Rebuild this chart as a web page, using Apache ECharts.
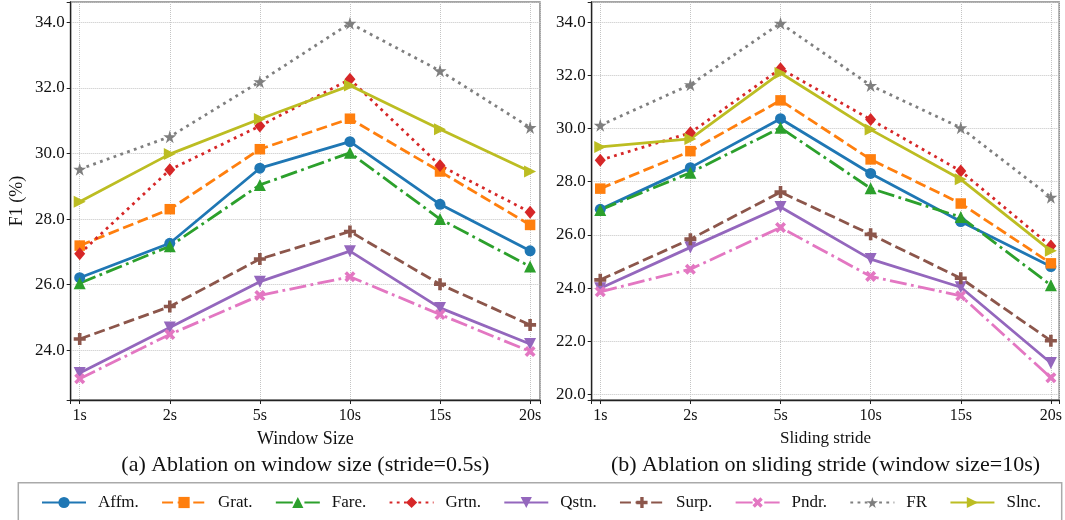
<!DOCTYPE html>
<html>
<head>
<meta charset="utf-8">
<script src="https://cdn.jsdelivr.net/npm/echarts@6/dist/echarts.min.js"></script>
<style>
    html, body { margin: 0; padding: 0; background: #fff; }
    #chart { width: 1065px; height: 520px; }
</style>
</head>
<body>
<div id="chart"></div>
<script>
// categories shared by both panels
const steps = ['1s', '2s', '5s', '10s', '15s', '20s']
const names = ['Affm.', 'Grat.', 'Fare.', 'Grtn.', 'Qstn.', 'Surp.', 'Pndr.', 'FR', 'Slnc.']

// (a) window size ablation, F1 (%)
const winAffm = [26.21, 27.26, 29.55, 30.36, 28.45, 27.03]
const winGrat = [27.19, 28.30, 30.13, 31.06, 29.45, 27.82]
const winFare = [26.04, 27.17, 29.04, 30.02, 28.00, 26.55]
const winGrtn = [26.94, 29.50, 30.84, 32.26, 29.63, 28.21]
const winQstn = [23.30, 24.69, 26.09, 27.02, 25.29, 24.19]
const winSurp = [24.34, 25.33, 26.78, 27.62, 26.01, 24.77]
const winPndr = [23.13, 24.48, 25.67, 26.24, 25.09, 23.96]
const winFR = [29.52, 30.51, 32.19, 33.97, 32.52, 30.79]
const winSlnc = [28.53, 29.98, 31.05, 32.07, 30.74, 29.45]

// (b) sliding stride ablation, F1 (%)
const strAffm = [26.96, 28.53, 30.37, 28.31, 26.50, 24.81]
const strGrat = [27.74, 29.15, 31.06, 28.84, 27.18, 24.93]
const strFare = [26.94, 28.34, 30.03, 27.75, 26.67, 24.11]
const strGrtn = [28.81, 29.84, 32.25, 30.34, 28.40, 25.58]
const strQstn = [23.99, 25.53, 27.05, 25.09, 24.03, 21.18]
const strSurp = [24.31, 25.84, 27.61, 26.02, 24.37, 22.02]
const strPndr = [23.86, 24.71, 26.28, 24.44, 23.71, 20.63]
const strFR = [30.12, 31.65, 33.96, 31.62, 30.03, 27.42]
const strSlnc = [29.31, 29.61, 32.09, 29.96, 28.09, 25.40]

const winTicks = [24, 26, 28, 30, 32, 34]
const strTicks = [20, 22, 24, 26, 28, 30, 32, 34]

const winData = [winAffm, winGrat, winFare, winGrtn, winQstn, winSurp, winPndr, winFR, winSlnc]
const strData = [strAffm, strGrat, strFare, strGrtn, strQstn, strSurp, strPndr, strFR, strSlnc]

const colors = ['#1f77b4', '#ff7f0e', '#2ca02c', '#d62728', '#9467bd', '#8c564b', '#e377c2', '#7f7f7f', '#bcbd22']
const lw = 2.8
const solid = 'solid'
const dashed = [11, 4.6]
const dashdot = [17, 4.4, 2.8, 4.4]
const dotted = [2.8, 4.4]
const dashes = [solid, dashed, dashdot, dotted, solid, dashed, dashdot, dotted, solid]

const plusPath = 'path://M3.5,0H6.5V3.5H10V6.5H6.5V10H3.5V6.5H0V3.5H3.5Z'
const starPath = 'path://M50,0L61,35L98,35L68,57L79,91L50,70L21,91L32,57L2,35L39,35Z'
const symbols = [
    { symbol: 'circle', size: 11, rotate: 0 },
    { symbol: 'rect', size: 10.5, rotate: 0 },
    { symbol: 'triangle', size: 12, rotate: 0 },
    { symbol: 'diamond', size: [11, 13], rotate: 0 },
    { symbol: 'triangle', size: 12, rotate: 180 },
    { symbol: plusPath, size: 12, rotate: 0 },
    { symbol: plusPath, size: 12, rotate: 45 },
    { symbol: starPath, size: 13, rotate: 0 },
    { symbol: 'triangle', size: 12, rotate: -90 }
]

const font = 'Liberation Serif, Times New Roman, serif'

function makeSeries(data, idx) {
    return data.map(function(vals, i) {
        return {
            name: names[i],
            type: 'line',
            xAxisIndex: idx,
            yAxisIndex: idx,
            data: vals.map(function(v, j) { return [j, v] }),
            symbol: symbols[i].symbol,
            symbolSize: symbols[i].size,
            symbolRotate: symbols[i].rotate,
            showAllSymbol: true,
            animation: false,
            color: colors[i],
            itemStyle: { color: colors[i] },
            lineStyle: { color: colors[i], width: lw, type: dashes[i], cap: 'butt' },
            emphasis: { disabled: true }
        }
    })
}

function xAxisOf(idx, min, max) {
    return {
        type: 'value',
        gridIndex: idx,
        min: min,
        max: max,
        splitNumber: 5,
        axisLine: { show: true, onZero: false, lineStyle: { color: '#222', width: 1.3 } },
        axisTick: { show: true, inside: false, length: 4, lineStyle: { color: '#222', width: 1 } },
        axisLabel: {
            customValues: [0, 1, 2, 3, 4, 5],
            formatter: function(v) { return steps[Math.round(v)] },
            color: '#111', fontFamily: font, fontSize: 16, margin: 8
        },
        splitLine: { show: true, lineStyle: { color: '#c4c4c4', type: 'dotted', width: 1 } }
    }
}

function yAxisOf(idx, min, max, ticks, split) {
    return {
        type: 'value',
        gridIndex: idx,
        min: min,
        max: max,
        splitNumber: split,
        name: idx === 0 ? 'F1 (%)' : '',
        nameLocation: 'middle',
        nameGap: 44,
        nameTextStyle: { color: '#111', fontFamily: font, fontSize: 18 },
        axisLine: { show: true, onZero: false, lineStyle: { color: '#222', width: 1.3 } },
        axisTick: { show: true, inside: false, length: 4, lineStyle: { color: '#222', width: 1 } },
        axisLabel: {
            customValues: ticks,
            formatter: function(v) { return v.toFixed(1) },
            color: '#111', fontFamily: font, fontSize: 17, margin: 6
        },
        splitLine: { show: true, lineStyle: { color: '#c4c4c4', type: 'dotted', width: 1 } }
    }
}

function label(text, x, y, size) {
    return {
        type: 'text',
        x: x,
        y: y,
        style: { text: text, fill: '#111', font: size + 'px ' + font, align: 'center', verticalAlign: 'middle' }
    }
}

const option = {
    animation: false,
    grid: [
        { left: 70.7, top: 2, width: 469.3, height: 398, show: true, borderColor: '#888', borderWidth: 1.5 },
        { left: 591.7, top: 2, width: 467.6, height: 398, show: true, borderColor: '#888', borderWidth: 1.5 }
    ],
    xAxis: [xAxisOf(0, -0.1, 5.11), xAxisOf(1, -0.095, 5.092)],
    yAxis: [yAxisOf(0, 22.48, 34.62, winTicks, 6), yAxisOf(1, 19.79, 34.76, strTicks, 7)],
    legend: {
        data: names,
        left: 18,
        top: 494,
        width: 1045,
        orient: 'horizontal',
        padding: [0, 0, 0, 23],
        itemWidth: 44,
        itemHeight: 14,
        itemGap: 22.3,
        textStyle: { color: '#111', fontFamily: font, fontSize: 17, padding: [0, 0, 0, 7] }
    },
    graphic: [
        label('Window Size', 305.3, 439, 18),
        label('(a) Ablation on window size (stride=0.5s)', 305.3, 465, 22),
        label('Sliding stride', 825.5, 439, 17),
        label('(b) Ablation on sliding stride (window size=10s)', 825.5, 465, 22),
        {
            type: 'rect',
            shape: { x: 18.3, y: 482.7, width: 1043.4, height: 60 },
            style: { fill: 'none', stroke: '#aaa', lineWidth: 1.5 }
        }
    ],
    series: makeSeries(winData, 0).concat(makeSeries(strData, 1))
}

const myChart = echarts.init(document.getElementById('chart'))
myChart.setOption(option)
</script>
</body>
</html>
